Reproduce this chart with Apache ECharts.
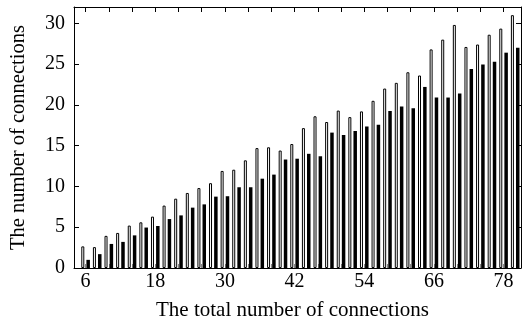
<!DOCTYPE html>
<html>
<head>
<meta charset="utf-8">
<script src="https://cdn.jsdelivr.net/npm/echarts@6/dist/echarts.min.js"></script>
<style>
  html, body { margin: 0; padding: 0; background: #fff; }
  #chart { width: 526px; height: 326px; }
</style>
</head>
<body>
<div id="chart"></div>
<script>
  // total number of connections (x)
  var totals = [6, 8, 10, 12, 14, 16, 18, 20, 22, 24, 26, 28, 30, 32, 34, 36, 38, 40, 42,
    44, 46, 48, 50, 52, 54, 56, 58, 60, 62, 64, 66, 68, 70, 72, 74, 76, 78, 80]
  // white bars
  var whiteValues = [2.65, 2.56, 3.94, 4.3, 5.2, 5.6, 6.3, 7.65, 8.5, 9.2, 9.8, 10.4, 11.9,
    12.05, 13.2, 14.7, 14.8, 14.4, 15.2, 17.15, 18.6, 17.9, 19.3, 18.5, 19.2, 20.5, 22.0,
    22.7, 24.0, 23.6, 26.8, 28.0, 29.8, 27.1, 27.4, 28.6, 29.35, 31.0]
  // black bars
  var blackValues = [1.0, 1.7, 2.95, 3.2, 4.0, 4.96, 5.15, 6.0, 6.45, 7.4, 7.8, 8.75, 8.8,
    9.9, 9.9, 10.95, 11.45, 13.3, 13.4, 14.0, 13.7, 16.6, 16.3, 16.8, 17.35, 17.55, 19.25,
    19.8, 19.6, 22.2, 20.9, 20.9, 21.4, 24.4, 24.95, 25.3, 26.4, 27.0]
  var xTickLabels = [6, 18, 30, 42, 54, 66, 78]
  var xTicks = [6, 10, 14, 18, 22, 26, 30, 34, 38, 42, 46, 50, 54, 58, 62, 66, 70, 74, 78]
  var yTickLabels = [0, 5, 10, 15, 20, 25, 30]

  var font = 'Liberation Serif'
  var chart = echarts.init(document.getElementById('chart'))

  function pairs (vals) {
    var out = []
    for (var i = 0; i < totals.length; i++) {
      out.push([totals[i], vals[i]])
    }
    return out
  }

  var xBase = {
    type: 'value',
    min: 4,
    max: 81,
    splitLine: { show: false },
    axisLine: { show: true, onZero: false, lineStyle: { color: '#000', width: 1 } }
  }
  var yBase = {
    type: 'value',
    min: 0,
    max: 32,
    splitLine: { show: false },
    axisLine: { show: true, onZero: false, lineStyle: { color: '#000', width: 1 } },
    axisTick: {
      show: true,
      inside: true,
      length: 5,
      customValues: yTickLabels,
      lineStyle: { color: '#000' }
    }
  }

  var option = {
    animation: false,
    backgroundColor: '#fff',
    grid: { left: 72, right: 5, top: 7, bottom: 57 },
    xAxis: [
      Object.assign({}, xBase, {
        position: 'bottom',
        name: 'The total number of connections',
        nameLocation: 'middle',
        nameGap: 32,
        nameTextStyle: { fontFamily: font, fontSize: 21, color: '#000', padding: [0, 10, 0, 0] },
        axisTick: {
          show: true,
          inside: true,
          length: 4,
          customValues: xTicks,
          lineStyle: { color: '#888' }
        },
        axisLabel: {
          customValues: xTickLabels,
          margin: 4,
          fontFamily: font,
          fontSize: 20,
          color: '#000'
        }
      }),
      Object.assign({}, xBase, {
        position: 'top',
        axisTick: {
          show: true,
          inside: true,
          length: 5,
          customValues: xTicks,
          lineStyle: { color: '#000' }
        },
        axisLabel: { show: false }
      })
    ],
    yAxis: [
      Object.assign({}, yBase, {
        position: 'left',
        name: 'The number of connections',
        nameLocation: 'middle',
        nameRotate: 90,
        nameGap: 45,
        nameTextStyle: { fontFamily: font, fontSize: 20.5, color: '#000' },
        axisLabel: {
          customValues: yTickLabels,
          margin: 9,
          fontFamily: font,
          fontSize: 20,
          color: '#000'
        }
      }),
      Object.assign({}, yBase, {
        position: 'right',
        axisLabel: { show: false }
      })
    ],
    series: [
      {
        name: 'white',
        type: 'bar',
        xAxisIndex: 0,
        yAxisIndex: 0,
        barWidth: 3,
        barGap: '70%',
        itemStyle: { color: '#fff', borderColor: '#000', borderWidth: 1 },
        data: pairs(whiteValues)
      },
      {
        name: 'black',
        type: 'bar',
        xAxisIndex: 0,
        yAxisIndex: 0,
        barWidth: 3.5,
        barGap: '70%',
        itemStyle: { color: '#000' },
        data: pairs(blackValues)
      }
    ]
  }
  chart.setOption(option)
</script>
</body>
</html>
